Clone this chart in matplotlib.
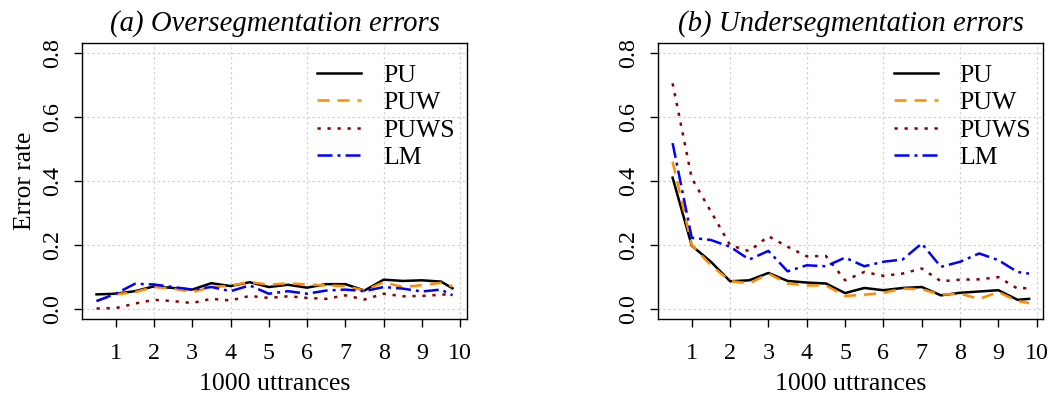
import matplotlib
matplotlib.use('Agg')
import matplotlib.pyplot as plt


# thousands of utterances
x = [0.5, 1.0, 1.5, 2.0, 2.5, 3.0, 3.5, 4.0, 4.5, 5.0,
     5.5, 6.0, 6.5, 7.0, 7.5, 8.0, 8.5, 9.0, 9.5, 9.8]

# (a) oversegmentation error rates
over_pu = [0.045, 0.047, 0.055, 0.070, 0.065, 0.060, 0.080, 0.071, 0.083, 0.068,
           0.075, 0.066, 0.077, 0.077, 0.057, 0.091, 0.087, 0.089, 0.085, 0.064]
over_puw = [0.024, 0.045, 0.052, 0.068, 0.063, 0.052, 0.068, 0.072, 0.084, 0.075,
            0.080, 0.076, 0.073, 0.071, 0.057, 0.083, 0.068, 0.074, 0.081, 0.070]
over_puws = [0.001, 0.002, 0.016, 0.028, 0.024, 0.018, 0.031, 0.026, 0.040, 0.034,
             0.039, 0.034, 0.031, 0.042, 0.029, 0.047, 0.039, 0.040, 0.044, 0.046]
over_lm = [0.024, 0.047, 0.078, 0.076, 0.068, 0.060, 0.068, 0.055, 0.073, 0.047,
           0.055, 0.047, 0.057, 0.060, 0.055, 0.068, 0.063, 0.054, 0.060, 0.042]

# (b) undersegmentation error rates
under_pu = [0.410, 0.197, 0.147, 0.086, 0.089, 0.112, 0.087, 0.082, 0.079, 0.049,
            0.065, 0.058, 0.065, 0.068, 0.042, 0.050, 0.054, 0.058, 0.028, 0.031]
under_puw = [0.460, 0.199, 0.136, 0.087, 0.079, 0.110, 0.079, 0.073, 0.073, 0.040,
             0.044, 0.050, 0.063, 0.061, 0.044, 0.047, 0.031, 0.052, 0.024, 0.018]
under_puws = [0.705, 0.408, 0.304, 0.199, 0.180, 0.227, 0.194, 0.164, 0.165, 0.089,
              0.115, 0.103, 0.110, 0.126, 0.086, 0.091, 0.092, 0.099, 0.063, 0.065]
under_lm = [0.518, 0.222, 0.215, 0.194, 0.154, 0.181, 0.117, 0.136, 0.133, 0.160,
            0.133, 0.147, 0.154, 0.204, 0.131, 0.147, 0.173, 0.152, 0.115, 0.110]

labels = ['PU', 'PUW', 'PUWS', 'LM']
xticks = list(range(1, 11))
yticks = [0.0, 0.2, 0.4, 0.6, 0.8]

styles = [
    dict(color='black', linestyle='-'),
    dict(color='#FF8C00', linestyle=(0, (4.8, 3.2))),
    dict(color='#8B0000', linestyle=(0, (1.3, 2.7))),
    dict(color='#0000FF', linestyle=(0, (6, 2, 1.2, 2))),
]

plt.rcParams['font.family'] = ['Liberation Serif', 'DejaVu Serif']


def draw_panel(ax, series, title, ylabel=None):
    for g in xticks[1::2]:
        ax.axvline(g, color='#d3d3d3', linestyle=(0, (2, 2)), lw=0.9, zorder=0)
    for g in yticks:
        ax.axhline(g, color='#d3d3d3', linestyle=(0, (2, 2)), lw=0.9, zorder=0)
    for ys, lab, st in zip(series, labels, styles):
        ax.plot(x, ys, lw=1.8, label=lab, **st)
    ax.set_xlim(0.128, 10.172)
    ax.set_ylim(-0.032, 0.832)
    ax.set_xticks(xticks)
    ax.set_yticks(yticks)
    ax.set_yticklabels(['0.0', '0.2', '0.4', '0.6', '0.8'], rotation=90, va='center')
    ax.tick_params(direction='out', length=6, width=1, labelsize=17.3, pad=11.5)
    ax.tick_params(axis='y', pad=8)
    for s in ax.spines.values():
        s.set_linewidth(1)
    ax.set_xlabel('1000 uttrances', fontsize=18.6, labelpad=6)
    if ylabel:
        ax.set_ylabel(ylabel, fontsize=18.4, labelpad=4)
    ax.set_title(title, fontsize=20.7, style='italic', pad=9)
    ax.legend(loc='upper right', frameon=False, fontsize=18.5, handlelength=1.71,
              handletextpad=0.86, labelspacing=0.18, borderaxespad=0.2,
              bbox_to_anchor=(1.009, 0.98))


fig = plt.figure(figsize=(10.51, 3.98), dpi=100)
ax1 = fig.add_axes([0.0783, 0.1985, 0.3658, 0.6942])
ax2 = fig.add_axes([0.6264, 0.1985, 0.3663, 0.6942])

draw_panel(ax1, [over_pu, over_puw, over_puws, over_lm],
           '(a) Oversegmentation errors', ylabel='Error rate')
draw_panel(ax2, [under_pu, under_puw, under_puws, under_lm],
           '(b) Undersegmentation errors')

fig.savefig('out.png', dpi=100)
